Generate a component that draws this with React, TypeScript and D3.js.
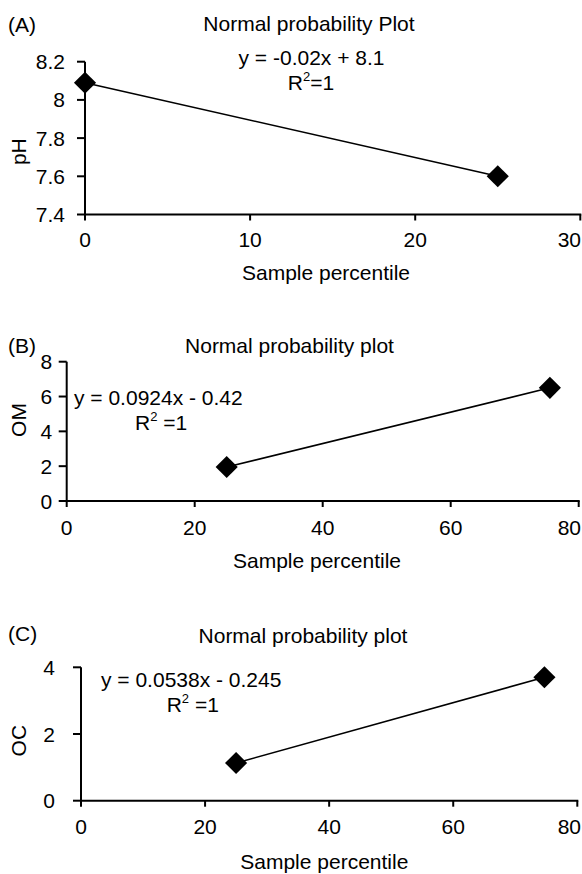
import * as d3 from 'd3';

// ---- data ----
const pctA = [0, 25];
const phValues = [8.09, 7.6];
const phTicks = [7.4, 7.6, 7.8, 8, 8.2];
const pctTicksA = [0, 10, 20, 30];

const pctB = [25, 75.5];
const omValues = [1.95, 6.5];
const omTicks = [0, 2, 4, 6, 8];

const pctC = [25, 74.7];
const ocValues = [1.13, 3.7];
const ocTicks = [0, 2, 4];

const pctTicksBC = [0, 20, 40, 60, 80];

const FONT = "'Liberation Sans', Arial, Helvetica, sans-serif";
const FS = 21;

// R² label: "R" with a raised small 2, then the rest
function RSquared({ x, y, anchor, rest }) {
    return <text x={x} y={y} textAnchor={anchor} fontSize={FS}>
        R<tspan fontSize={13} dy={-9}>2</tspan><tspan dy={9}>{rest}</tspan>
    </text>;
}

function Panel({ tag, title, yLabel, xs, ys, xTicks, yTicks, yFormat, xRange, yRange, labelGap, layout, eq, rRest }) {
    const xScale = d3.scaleLinear().domain(d3.extent(xTicks)).range(xRange);
    const yScale = d3.scaleLinear().domain(d3.extent(yTicks)).range(yRange);

    const pts = xs.map((x, i) => [xScale(x), yScale(ys[i])]);
    const line = d3.line()(pts);
    const diamond = d3.symbol(d3.symbolSquare, 245)();

    const x0 = xRange[0];
    const yBase = yRange[0];
    const lastX = xTicks[xTicks.length - 1];

    return <g fontFamily={FONT} fill="#000">
        <text x={8} y={layout.tagY} fontSize={FS}>{tag}</text>
        <text x={layout.titleX} y={layout.titleY} textAnchor="middle" fontSize={FS}>{title}</text>

        {/* equation + R² */}
        <text x={layout.eqX} y={layout.eqY} textAnchor={layout.eqAnchor} fontSize={FS}>{eq}</text>
        <RSquared x={layout.rX} y={layout.rY} anchor={layout.eqAnchor} rest={rRest} />

        {/* y axis */}
        <line x1={x0} x2={x0} y1={yScale.range()[1]} y2={yBase + 1} stroke="#000" strokeWidth={2} />
        {yTicks.map(t => <g key={'y' + t}>
            <line x1={x0 - 8} x2={x0} y1={yScale(t)} y2={yScale(t)} stroke="#000" strokeWidth={2} />
            <text x={x0 - labelGap} y={yScale(t)} dy="0.36em" textAnchor="end" fontSize={FS}>{yFormat(t)}</text>
        </g>)}
        <text transform={`translate(${layout.yLabX},${layout.yLabY}) rotate(-90)`} textAnchor="middle"
            dominantBaseline="central" fontSize={FS}>{yLabel}</text>

        {/* x axis */}
        <line x1={x0 - 1} x2={xRange[1] + 1} y1={yBase} y2={yBase} stroke="#000" strokeWidth={2} />
        {xTicks.map(t => <g key={'x' + t}>
            <line x1={xScale(t)} x2={xScale(t)} y1={yBase} y2={yBase + 6} stroke="#000" strokeWidth={2} />
            {/* the last label sits flush with the right edge in the original */}
            <text x={t === lastX ? 581 : xScale(t)} y={layout.xTickY} textAnchor={t === lastX ? 'end' : 'middle'}
                fontSize={FS}>{t}</text>
        </g>)}
        <text x={layout.xLabX} y={layout.xLabY} textAnchor="middle" fontSize={FS}>Sample percentile</text>

        {/* data */}
        <path d={line} fill="none" stroke="#000" strokeWidth={1.6} />
        {pts.map((p, i) => <path key={i} d={diamond} transform={`translate(${p[0]},${p[1]}) rotate(45)`} fill="#000" />)}
    </g>;
}

export default function App() {
    return <svg width={582} height={874} viewBox="0 0 582 874"
        style={{ position: 'absolute', left: 0, top: 0, background: '#fff' }}>
        <rect width={582} height={874} fill="#fff" />
        <Panel tag="(A)" title="Normal probability Plot" yLabel="pH"
            xs={pctA} ys={phValues} xTicks={pctTicksA} yTicks={phTicks}
            yFormat={d => String(d)}
            xRange={[85, 580.3]} yRange={[214.5, 61.7]} labelGap={20}
            eq="y = -0.02x + 8.1" rRest="=1"
            layout={{
                tagY: 31.5, titleX: 309, titleY: 30.7,
                eqX: 311.5, eqY: 65, eqAnchor: 'middle', rX: 311, rY: 90,
                yLabX: 18.5, yLabY: 151.7, xTickY: 246.7, xLabX: 326, xLabY: 280,
            }} />
        <Panel tag="(B)" title="Normal probability plot" yLabel="OM"
            xs={pctB} ys={omValues} xTicks={pctTicksBC} yTicks={omTicks}
            yFormat={d => String(d)}
            xRange={[66.7, 578.7]} yRange={[501, 361.7]} labelGap={14.5}
            eq="y = 0.0924x - 0.42" rRest=" =1"
            layout={{
                tagY: 353.3, titleX: 289.5, titleY: 353.3,
                eqX: 74, eqY: 405, eqAnchor: 'start', rX: 135, rY: 430,
                yLabX: 18.5, yLabY: 420, xTickY: 535, xLabX: 317, xLabY: 568.3,
            }} />
        <Panel tag="(C)" title="Normal probability plot" yLabel="OC"
            xs={pctC} ys={ocValues} xTicks={pctTicksBC} yTicks={ocTicks}
            yFormat={d => String(d)}
            xRange={[81, 577.3]} yRange={[800.7, 667.3]} labelGap={26}
            eq="y = 0.0538x - 0.245" rRest=" =1"
            layout={{
                tagY: 640.7, titleX: 303, titleY: 643.3,
                eqX: 101, eqY: 687.3, eqAnchor: 'start', rX: 166.7, rY: 712.3,
                yLabX: 18.5, yLabY: 740.7, xTickY: 834, xLabX: 324.3, xLabY: 869,
            }} />
    </svg>;
}
